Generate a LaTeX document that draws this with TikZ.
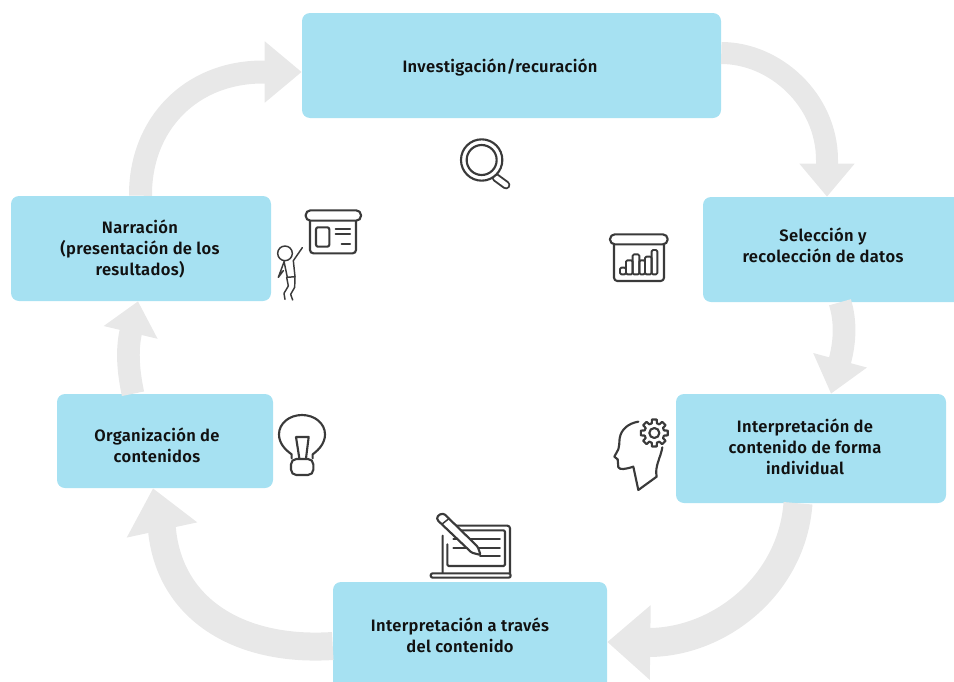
\documentclass[tikz,border=0pt]{standalone}
\usepackage{fontspec}
\setmainfont{Fira Sans}
\newfontfamily\lblfont[LetterSpace=2,BoldFont={Fira Sans SemiBold}]{Fira Sans}
\usetikzlibrary{arrows.meta}
\definecolor{boxblue}{HTML}{A6E1F2}
\definecolor{flowgray}{HTML}{E8E8E8}
\definecolor{icondark}{HTML}{3A3A3A}
\definecolor{txt}{HTML}{111111}
\tikzset{
  panel/.style={fill=boxblue,draw=none,rounded corners=6pt},
  lbl/.style={font=\lblfont\fontsize{12.4}{15.75}\selectfont\bfseries,text=txt,align=center,inner sep=0pt},
  flow/.style={draw=flowgray,line cap=butt},
  ico/.style={draw=icondark,line width=1.6pt,line cap=round,line join=round},
  fine/.style={ico,line width=1.1pt},
}
\begin{document}
\begin{tikzpicture}[x=0.75pt,y=-0.75pt]
\useasboundingbox (0,0) rectangle (954,682);
\begin{scope}
\clip (0,0) rectangle (954,682);
% boxes
\path[panel] (302,13) rectangle (721,118);
\node (n1) [inner sep=0pt,minimum width=314.25pt,minimum height=78.75pt] at (511.5,65.5) {};
\path[panel] (703,197) rectangle (975,302);
\node (n2) [inner sep=0pt,minimum width=204pt,minimum height=78.75pt] at (839,249.5) {};
\path[panel] (676,394) rectangle (946,503);
\node (n3) [inner sep=0pt,minimum width=202.5pt,minimum height=81.75pt] at (811,448.5) {};
\path[panel] (333,582) rectangle (607,705);
\node (n4) [inner sep=0pt,minimum width=205.5pt,minimum height=92.25pt] at (470,643.5) {};
\path[panel] (57,394) rectangle (273,488);
\node (n5) [inner sep=0pt,minimum width=162pt,minimum height=70.5pt] at (165,441) {};
\path[panel] (11,196) rectangle (271,301);
\node (n6) [inner sep=0pt,minimum width=195pt,minimum height=78.75pt] at (141,248.5) {};
% connectors
\draw[flow,line width=16.5pt,-{Triangle[length=24.75pt,width=39.75pt]}] (n1.east |- 0,53) .. controls (775,53) and (827,100) .. (827,160) -- (827,0 |- n2.north);
\draw[flow,line width=17pt,-{Triangle[length=26pt,width=40pt]}] (840,0 |- n2.south) .. controls (846,322) and (845,342) .. (831,0 |- n3.north);
\draw[flow,line width=21.75pt,-{Triangle[length=32.25pt,width=54pt]}] (798,0 |- n3.south) .. controls (792,585) and (720,642) .. (649,642.5) -- (n4.east |- 0,642);
\draw[flow,line width=21pt,-{Triangle[length=32pt,width=52pt]}] (n4.west |- 0,646) .. controls (240,652) and (170,610) .. (162,530) -- (153,0 |- n5.south);
\draw[flow,line width=17pt,-{Triangle[length=24pt,width=40pt]}] (133,0 |- n5.north) .. controls (129,375) and (126,352) .. (138,0 |- n6.south);
\draw[flow,line width=17.25pt,-{Triangle[length=27.75pt,width=44.25pt]}] (140.5,0 |- n6.north) .. controls (140,125) and (190,72) .. (263,72) -- (n1.west |- 0,72);
% labels
\node[lbl] (t1) at (500,67) {Investigación/recuración};
\node[lbl] (t2) at (823,245) {Selección y\\recolección de datos};
\node[lbl] (t3) at (805,446.5) {Interpretación de\\contenido de forma\\individual};
\node[lbl] (t4) at (460,635) {Interpretación a través\\del contenido};
\node[lbl] (t5) at (157,445) {Organización de\\contenidos};
\node[lbl] (t6) at (140,249) {Narración\\(presentación de los\\resultados)};
\end{scope}
% magnifier
\begin{scope}[shift={(270,130)},scale=1/3]
\draw[icondark,line width=6.5pt,line cap=round] (678,143)--(708,165);
\draw[white,line width=3.6pt,line cap=round] (678,143)--(708,165);
\draw[ico,fill=white] (635,90) circle (62);
\draw[ico] (635,90) circle (45);
\end{scope}
% presentation board and figure
\begin{scope}[shift={(270,200)},scale=1/3]
\draw[ico,rounded corners=2.5pt] (120,60)--(120,160)--(258,160)--(258,60);
\draw[ico,fill=white,rounded corners=3.6pt] (107,31) rectangle (273,62);
\draw[ico,rounded corners=1.5pt] (138,82) rectangle (178,140);
\draw[ico] (197,88)--(240,88) (197,103)--(240,103) (215,133)--(240,133);
\draw[fine] (45,160) circle (22);
\draw[fine] (42,184)--(52,232)--(75,230)--(70,182)--(97,143);
\draw[fine] (42,186)--(25,232)--(40,212);
\draw[fine] (50,232)--(55,258)--(42,280)--(45,298) (75,230)--(74,262)--(62,283)--(68,300);
\end{scope}
% chart
\begin{scope}[shift={(600,225)},scale=1/3]
\draw[ico,rounded corners=2.5pt] (42,58)--(42,168)--(192,168)--(192,58);
\draw[ico,fill=white,rounded corners=3.6pt] (30,28) rectangle (203,58);
\draw[ico,line width=1.4pt,rounded corners=1pt] (60,148) rectangle (78,128);
\draw[ico,line width=1.4pt,rounded corners=1pt] (78,148) rectangle (98,106);
\draw[ico,line width=1.4pt,rounded corners=1pt] (98,148) rectangle (118,88);
\draw[ico,line width=1.4pt,rounded corners=1pt] (118,148) rectangle (135,106);
\draw[ico,line width=1.4pt,rounded corners=1pt] (135,148) rectangle (155,95);
\draw[ico,line width=1.4pt,rounded corners=1pt] (155,148) rectangle (172,75);
\end{scope}
% head and gear
\begin{scope}[shift={(605,410)},scale=1/3]
\draw[ico] (100,35) .. controls (70,40) and (48,58) .. (44,85) .. controls (42,100) and (44,108) .. (40,118) -- (28,140) -- (38,148) -- (40,172) .. controls (45,180) and (60,178) .. (85,170) -- (100,240) -- (155,200) .. controls (148,170) and (168,140) .. (172,112);
\begin{scope}[shift={(148,69)}]
\foreach \a in {0,45,...,315}{
  \draw[ico] (\a-15:30)--(\a-10:41)--(\a+10:41)--(\a+15:30)--(\a+30:30);
}
\draw[ico] (0,0) circle (15);
\end{scope}
\end{scope}
% laptop and pencil
\begin{scope}[shift={(420,505)},scale=1/3]
\draw[ico,rounded corners=2pt] (68,205)--(68,92) (100,62)--(270,62)--(270,205);
\draw[ico,rounded corners=1pt] (82,118)--(82,183)--(255,183)--(255,76)--(118,76);
\draw[ico,fill=white,rounded corners=1.5pt] (32,205) rectangle (272,218);
\draw[ico,line width=1.3pt] (100,103)--(240,103) (100,128)--(240,128) (180,152)--(240,152);
\draw[ico,fill=white,rounded corners=1pt] (52,45) .. controls (50,30) and (68,22) .. (78,32) -- (173,125) -- (182,150) -- (155,143) -- cycle;
\draw[fine] (65,58)--(88,40);
\end{scope}
% bulb
\begin{scope}[shift={(270,405)},scale=1/3]
\draw[ico] (65,160)--(65,148) .. controls (42,132) and (27,112) .. (27,88) .. controls (27,55) and (58,30) .. (96,30) .. controls (134,30) and (165,55) .. (165,88) .. controls (165,112) and (150,132) .. (128,148) -- (128,160);
\draw[ico] (78,96)--(116,96)--(108,160) (78,96)--(88,160);
\draw[ico,rounded corners=4pt] (63,162)--(63,210)--(130,210)--(130,162)--cycle;
\end{scope}
\end{tikzpicture}
\end{document}
